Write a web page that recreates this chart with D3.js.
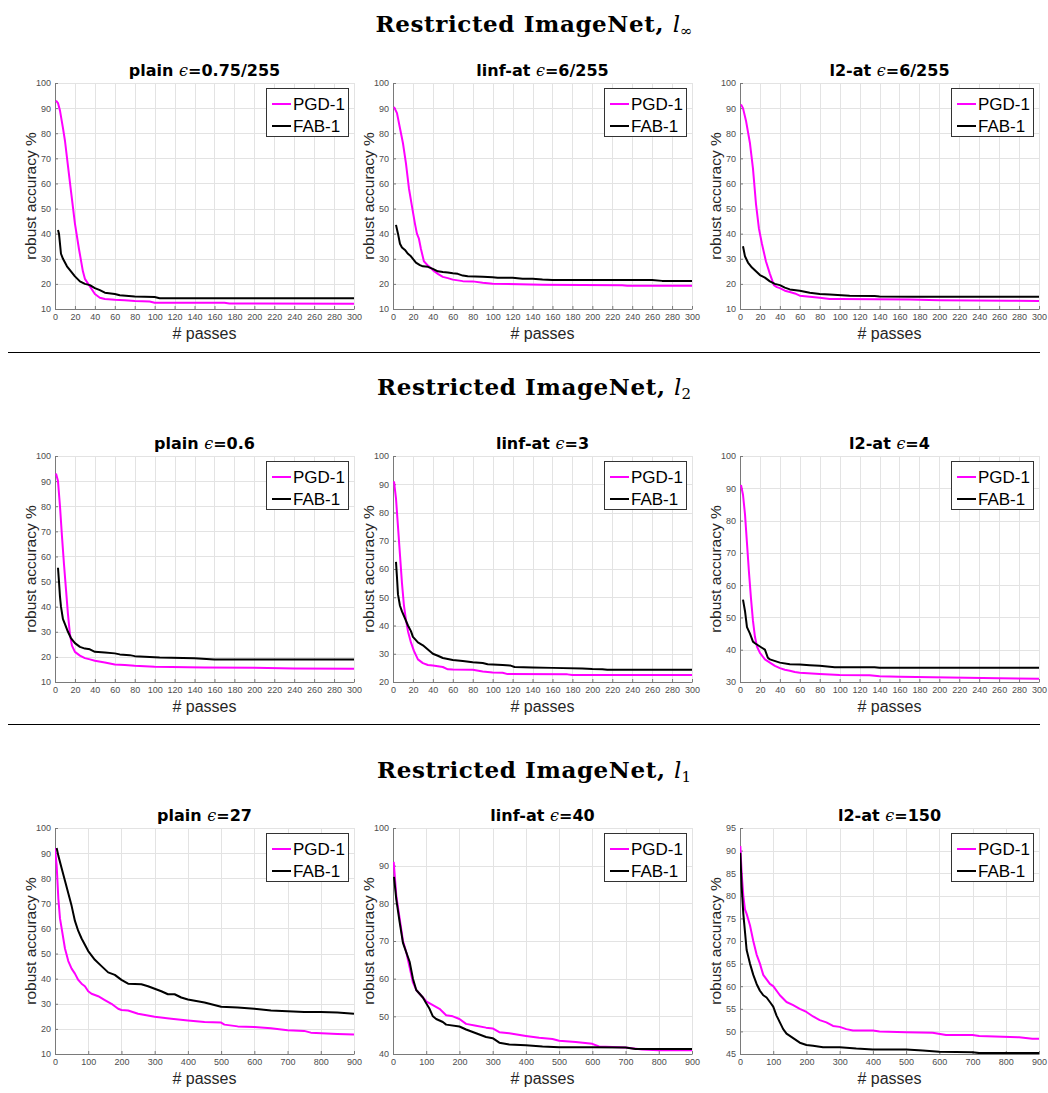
<!DOCTYPE html>
<html>
<head>
<meta charset="utf-8">
<script src="https://cdn.jsdelivr.net/npm/d3@7/dist/d3.min.js"></script>
<style>
  body { margin: 0; background: #fff; }
  svg text { font-family: "Liberation Sans", Arial, sans-serif; }
</style>
</head>
<body>
<div id="chart"></div>
<script>
// ---- data: [passes, robust accuracy %] ----
// row 1: l_inf
const pgdLinfPlain = [[1,93],[3,92],[5,89],[8,82],[10,77],[13,67],[16,57],[20,44],[24,34],[28,25],[30,22],[35,19],[40,16],[45,14.5],[50,14],[60,13.7],[70,13.5],[80,13.2],[95,13],[100,12.5],[170,12.5],[175,12.2],[300,12.1]];
const fabLinfPlain = [[3,41.5],[4,40],[6,32],[8,30],[12,27],[16,25],[20,23],[25,21],[30,20],[35,19.5],[40,18.3],[45,17.5],[50,16.5],[60,16],[65,15.5],[80,15],[100,14.8],[105,14.3],[300,14.3]];
const pgdLinfLinf = [[1,90.5],[4,88],[7,82],[10,76],[13,68],[16,58],[19,51],[22,44],[24,40],[26,38],[28,34],[31,29],[35,27.3],[40,25.5],[45,24],[50,22.8],[55,22.3],[60,21.7],[70,21.1],[80,21],[90,20.5],[100,20.1],[150,19.7],[230,19.5],[235,19.3],[300,19.3]];
const fabLinfLinf = [[3,43.5],[5,40],[7,36],[9,34.5],[12,33.5],[15,32],[18,31],[20,30],[23,28.5],[27,27.5],[30,27],[35,26.8],[40,26],[45,25],[50,24.7],[55,24.5],[60,24.2],[65,24],[70,23.3],[75,23],[90,22.8],[100,22.6],[105,22.4],[120,22.4],[130,22],[140,22],[150,21.7],[160,21.5],[260,21.5],[270,21.2],[300,21.2]];
const pgdLinfL2 = [[1,91.5],[3,90],[6,85],[10,76],[13,66],[16,52],[19,42],[22,36],[26,29],[30,24],[34,19.5],[37,18.7],[40,18.3],[45,17.3],[50,16.8],[55,16.2],[60,15.3],[70,14.9],[80,14.5],[90,14],[100,14],[170,13.8],[200,13.5],[270,13.3],[300,13.2]];
const fabLinfL2 = [[3,35],[5,31],[8,28.5],[12,26.5],[16,25],[20,23.5],[25,22.5],[30,21],[35,20],[40,19.5],[45,18.5],[50,17.8],[60,17.3],[70,16.5],[80,16],[90,15.8],[110,15.3],[135,15.2],[140,15],[175,14.9],[300,14.9]];

// row 2: l2
const pgdL2Plain = [[1,93],[3,90],[5,80],[7,68],[9,57],[11,47],[13,37],[15,29],[17,24.5],[20,22],[25,20.5],[30,19.5],[35,19],[40,18.5],[50,17.8],[60,17],[70,16.8],[80,16.5],[100,16.1],[150,15.8],[200,15.7],[240,15.4],[300,15.3]];
const fabL2Plain = [[3,55.5],[4,50],[5,44],[6,40],[8,35],[10,33],[13,30],[16,27.5],[20,25.5],[25,24],[30,23.3],[35,23],[40,22],[50,21.7],[60,21.4],[65,21],[75,20.7],[80,20.3],[95,20],[105,19.8],[140,19.5],[160,19],[300,19]];
const pgdL2Linf = [[1,91],[3,85],[5,75],[7,65],[9,55],[11,47],[13,42],[15,38],[18,34],[21,31],[25,28],[30,26.7],[35,26],[40,25.8],[45,25.6],[50,25.3],[55,24.5],[60,24.4],[80,24.3],[90,23.7],[100,23.4],[110,23.3],[115,22.8],[175,22.7],[180,22.5],[300,22.5]];
const fabL2Linf = [[3,62.5],[4,57],[5,51],[7,47],[9,45],[12,42.5],[15,40],[18,38],[20,36],[25,34],[30,33],[35,31.5],[40,30],[45,29.3],[50,28.5],[60,27.8],[70,27.4],[80,27],[90,26.7],[95,26.3],[110,26],[118,25.8],[122,25.3],[140,25.1],[160,25],[190,24.8],[200,24.6],[210,24.5],[215,24.3],[300,24.3]];
const pgdL2L2 = [[1,91],[3,88],[5,82],[7,73],[9,64],[11,56],[13,49],[15,44],[17,41],[20,39],[25,37],[30,36],[35,35],[40,34.3],[45,33.8],[50,33.5],[55,33.1],[60,32.9],[80,32.5],[100,32.2],[130,32.1],[140,31.8],[160,31.6],[210,31.4],[260,31.2],[300,31]];
const fabL2L2 = [[3,55.5],[5,52],[7,47],[10,45],[13,42.5],[15,42],[20,41],[25,40],[28,37.5],[30,37],[40,36],[50,35.5],[60,35.4],[70,35.2],[80,35],[95,34.6],[135,34.6],[140,34.4],[300,34.4]];

// row 3: l1
const pgdL1Plain = [[0,92],[5,85],[10,72],[15,64],[20,60],[30,52],[40,47],[50,44],[60,42],[70,39.5],[80,38],[90,37],[100,35],[110,34],[130,33],[150,31.5],[170,30],[190,28],[200,27.5],[220,27.3],[250,26],[300,24.8],[350,24],[400,23.3],[450,22.7],[500,22.5],[510,21.7],[550,21],[600,20.8],[650,20.3],[700,19.5],[750,19.2],[770,18.5],[850,18],[900,17.8]];
const fabL1Plain = [[5,92],[10,89],[20,84],[30,79],[40,74],[50,69],[60,63],[70,59],[80,56],[100,51],[120,47.5],[140,45],[160,42.5],[180,41.5],[200,39.5],[220,38],[260,37.8],[280,37],[300,36],[320,35],[340,33.8],[360,33.8],[380,32.5],[400,31.7],[450,30.5],[500,28.8],[550,28.5],[600,28],[650,27.3],[700,27],[750,26.7],[800,26.7],[850,26.5],[900,26]];
const pgdL1Linf = [[2,91],[10,82],[20,76],[30,70],[40,67],[50,63],[60,59],[70,57],[80,56],[100,54],[120,53],[140,52],[160,50.3],[180,50],[200,49.3],[220,48],[250,47.5],[280,47],[300,46.8],[320,45.8],[350,45.5],[400,44.8],[440,44.3],[480,44],[500,43.5],[550,43.2],[600,42.7],[620,42],[700,41.7],[750,41.2],[800,41],[900,41]];
const fabL1Linf = [[3,87],[10,81],[20,75],[30,69.5],[40,67],[50,64.5],[60,60],[70,57],[80,56],[90,55],[100,53.5],[110,52],[120,50],[130,49.3],[150,48.5],[160,47.8],[200,47.3],[220,46.5],[250,45.5],[280,44.5],[300,44.2],[320,43],[350,42.5],[400,42.3],[450,42],[500,41.8],[600,41.8],[700,41.7],[730,41.3],[900,41.3]];
const pgdL1L2 = [[1,91],[5,85],[10,80],[15,77],[20,76],[30,73.5],[40,70],[50,67],[60,65],[70,62.5],[80,61.5],[90,60.5],[100,60],[120,58],[140,56.5],[160,55.8],[180,55],[200,54.3],[220,53.3],[240,52.5],[260,52],[280,51.2],[300,51],[320,50.5],[340,50.2],[400,50.2],[420,50],[500,49.8],[580,49.7],[620,49.2],[700,49.2],[720,49],[840,48.7],[880,48.4],[900,48.4]];
const fabL1L2 = [[1,89.5],[5,82],[10,76],[15,72],[20,68],[30,65],[40,62.5],[50,60.5],[60,59],[70,58],[80,57.5],[90,56.5],[100,55.5],[110,53.5],[120,52],[130,50.5],[140,49.5],[160,48.5],[180,47.5],[200,47],[220,46.8],[250,46.5],[300,46.5],[350,46.2],[400,46],[500,46],[550,45.8],[600,45.5],[700,45.4],[720,45.2],[900,45.2]];

// ---- labels and axis ranges ----
const sectionNorms = ["∞", "2", "1"];
const modelNames = ["plain", "linf-at", "l2-at"];
const epsLabels = [["0.75/255", "6/255", "6/255"], ["0.6", "3", "4"], ["27", "40", "150"]];
const xMaxByRow = [300, 300, 900];
const xTickStep = [20, 20, 100];
const yDomains = [[[10,100],[10,100],[10,100]], [[10,100],[20,100],[30,100]], [[10,100],[40,100],[45,95]]];
const yTickStep = [[10,10,10],[10,10,10],[10,10,5]];
const seriesNames = ["PGD-1", "FAB-1"];
const seriesColors = ["#ff00ff", "#000000"];

const pgdData = [[pgdLinfPlain, pgdLinfLinf, pgdLinfL2], [pgdL2Plain, pgdL2Linf, pgdL2L2], [pgdL1Plain, pgdL1Linf, pgdL1L2]];
const fabData = [[fabLinfPlain, fabLinfLinf, fabLinfL2], [fabL2Plain, fabL2Linf, fabL2L2], [fabL1Plain, fabL1Linf, fabL1L2]];

document.addEventListener('DOMContentLoaded', () => {
    const width = 1048, height = 1093;
    const colLeft = [55, 393, 740];
    const rowTop = [83, 456, 828];
    const plotW = 299, plotH = 226;
    const sectionY = [32, 395, 778];

    const svg = d3.select("#chart").append("svg")
        .attr("width", width)
        .attr("height", height);

    // section headers and separators
    sectionNorms.forEach((norm, r) => {
        const t = svg.append("text")
            .attr("x", 534)
            .attr("y", sectionY[r])
            .attr("text-anchor", "middle")
            .style("font-family", "'DejaVu Serif', serif")
            .style("font-weight", "bold")
            .style("font-size", "23px");
        t.append("tspan").style("letter-spacing", "0.6px").text("Restricted ImageNet, ");
        t.append("tspan").style("font-style", "italic").style("font-weight", "normal").text("l");
        t.append("tspan").attr("dy", 4).style("font-size", "15px").style("font-weight", "normal").text(norm);
    });
    [352, 724].forEach(y => {
        svg.append("line")
            .attr("x1", 8).attr("x2", 1040)
            .attr("y1", y + 0.5).attr("y2", y + 0.5)
            .attr("stroke", "#000").attr("stroke-width", 1);
    });

    const line = d3.line();

    for (let r = 0; r < 3; r++) {
        for (let c = 0; c < 3; c++) {
            const x0 = colLeft[c], y0 = rowTop[r];
            const g = svg.append("g").attr("transform", `translate(${x0},${y0})`);

            const x = d3.scaleLinear().domain([0, xMaxByRow[r]]).range([0, plotW]);
            const y = d3.scaleLinear().domain(yDomains[r][c]).range([plotH, 0]);
            const xTicks = d3.range(0, xMaxByRow[r] + 1, xTickStep[r]);
            const yTicks = d3.range(yDomains[r][c][0], yDomains[r][c][1] + 0.01, yTickStep[r][c]);

            // grid
            g.append("g").selectAll("line").data(xTicks).enter().append("line")
                .attr("x1", d => Math.round(x(d)) + 0.5).attr("x2", d => Math.round(x(d)) + 0.5)
                .attr("y1", 0).attr("y2", plotH)
                .attr("stroke", "#e3e3e3");
            g.append("g").selectAll("line").data(yTicks).enter().append("line")
                .attr("y1", d => Math.round(y(d)) + 0.5).attr("y2", d => Math.round(y(d)) + 0.5)
                .attr("x1", 0).attr("x2", plotW)
                .attr("stroke", "#e3e3e3");

            // axes
            const xAxis = g.append("g").attr("transform", `translate(0,${plotH})`)
                .call(d3.axisBottom(x).tickValues(xTicks).tickSizeInner(-3).tickSizeOuter(0).tickPadding(5));
            const yAxis = g.append("g")
                .call(d3.axisLeft(y).tickValues(yTicks).tickSizeInner(-3).tickSizeOuter(0).tickPadding(4));
            [xAxis, yAxis].forEach(a => {
                a.select(".domain").attr("stroke", "#7a7a7a");
                a.selectAll(".tick line").attr("stroke", "#7a7a7a");
                a.selectAll(".tick text")
                    .attr("fill", "#4d4d4d")
                    .style("font-size", "9px")
                    .style("font-family", "'Liberation Sans', Arial, sans-serif");
            });

            // series
            const clipId = `clip-${r}-${c}`;
            g.append("clipPath").attr("id", clipId)
                .append("rect").attr("width", plotW).attr("height", plotH);
            const series = [pgdData[r][c], fabData[r][c]];
            series.forEach((pts, i) => {
                g.append("path")
                    .attr("clip-path", `url(#${clipId})`)
                    .attr("d", line(pts.map(p => [x(p[0]), y(p[1])])))
                    .attr("fill", "none")
                    .attr("stroke", seriesColors[i])
                    .attr("stroke-width", 2)
                    .attr("stroke-linejoin", "round");
            });

            // title
            const title = g.append("text")
                .attr("x", plotW / 2)
                .attr("y", -7)
                .attr("text-anchor", "middle")
                .style("font-family", "'DejaVu Sans', sans-serif")
                .style("font-size", "16px")
                .style("font-weight", "bold");
            title.append("tspan").text(modelNames[c] + " ");
            title.append("tspan")
                .style("font-family", "'DejaVu Serif', serif")
                .style("font-style", "italic")
                .style("font-weight", "normal")
                .text("ϵ");
            title.append("tspan").text("=" + epsLabels[r][c]);

            // axis labels
            g.append("text")
                .attr("x", plotW / 2)
                .attr("y", plotH + 30)
                .attr("text-anchor", "middle")
                .attr("fill", "#262626")
                .style("font-size", "16px")
                .text("# passes");
            g.append("text")
                .attr("transform", `translate(-19,${plotH / 2}) rotate(-90)`)
                .attr("text-anchor", "middle")
                .attr("fill", "#262626")
                .style("font-size", "15.5px")
                .text("robust accuracy %");

            // legend
            const lg = g.append("g").attr("transform", `translate(${plotW - 88},5)`);
            lg.append("rect")
                .attr("x", 0.5).attr("y", 0.5)
                .attr("width", 82).attr("height", 48)
                .attr("fill", "#fff")
                .attr("stroke", "#333");
            seriesNames.forEach((name, i) => {
                const ly = 16 + i * 22;
                lg.append("line")
                    .attr("x1", 6).attr("x2", 25)
                    .attr("y1", ly).attr("y2", ly)
                    .attr("stroke", seriesColors[i])
                    .attr("stroke-width", 2);
                lg.append("text")
                    .attr("x", 27)
                    .attr("y", ly + 6)
                    .attr("fill", "#000")
                    .style("font-size", "17px")
                    .text(name);
            });
        }
    }
});
</script>
</body>
</html>
